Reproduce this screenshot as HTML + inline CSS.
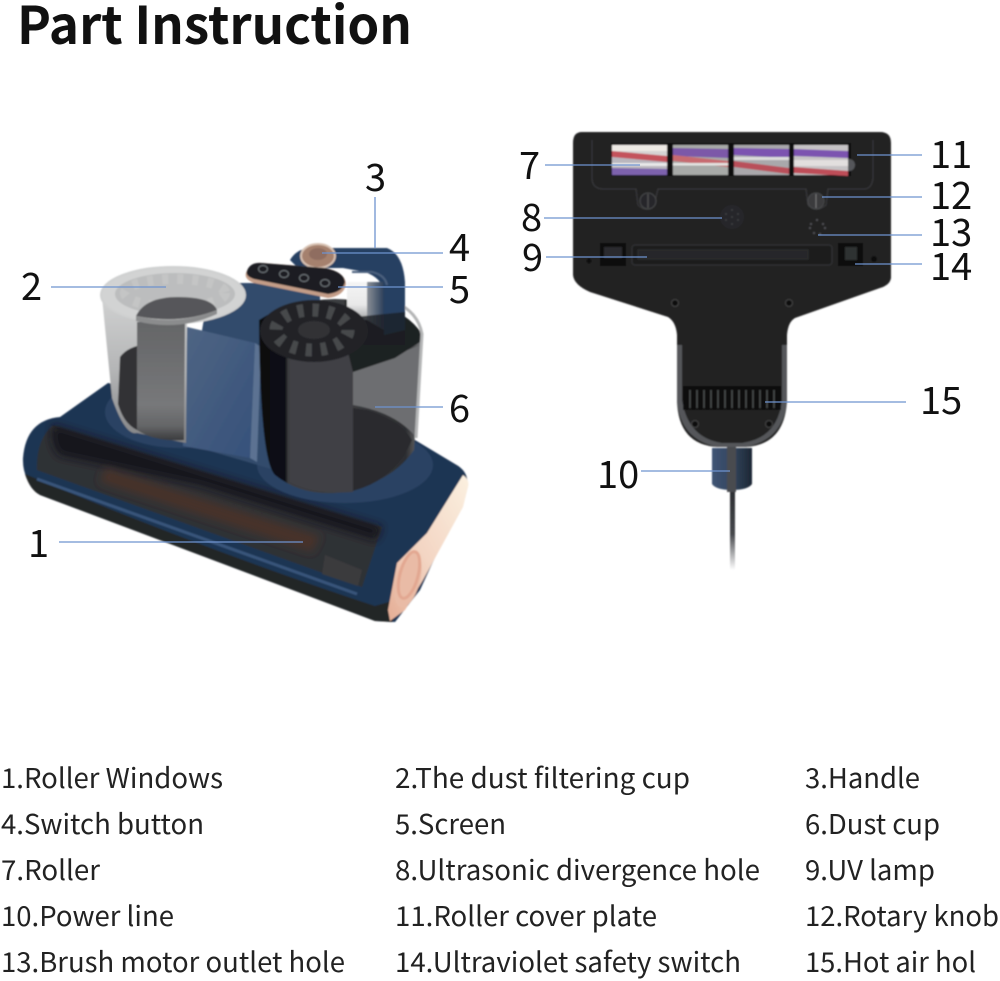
<!DOCTYPE html>
<html><head><meta charset="utf-8"><style>
html,body{margin:0;padding:0;background:#fff}
svg{display:block}
text{font-family:"Noto Sans CJK SC","Liberation Sans",sans-serif;fill:#111}
.n{font-size:38px;font-weight:400}
.l{font-size:27.5px;fill:#222}
</style></head><body>
<svg width="1000" height="981" viewBox="0 0 1000 981" xmlns="http://www.w3.org/2000/svg">
<defs>
<linearGradient id="outer" x1="0" x2="0" y1="0" y2="1"><stop offset="0" stop-color="#d0d1d1"/><stop offset=".5" stop-color="#b4b5b6"/><stop offset="1" stop-color="#808183"/></linearGradient>
<linearGradient id="inner" x1="0" x2="0" y1="0" y2="1"><stop offset="0" stop-color="#646567"/><stop offset=".7" stop-color="#77787a"/><stop offset=".88" stop-color="#646567"/><stop offset="1" stop-color="#3a3b3d"/></linearGradient>
<linearGradient id="panel" x1="0" x2="1" y1="0" y2="1"><stop offset="0" stop-color="#4f6583"/><stop offset="1" stop-color="#35507a"/></linearGradient>
<linearGradient id="cup2" x1="0" x2="1" y1="0" y2="0"><stop offset="0" stop-color="#0b0c10"/><stop offset=".16" stop-color="#0e0f13"/><stop offset=".18" stop-color="#3c3d40"/><stop offset=".6" stop-color="#3a3b3e"/><stop offset=".9" stop-color="#2c2d30"/><stop offset="1" stop-color="#77787a"/></linearGradient>
<linearGradient id="cap" x1="0" x2="1" y1="1" y2="0"><stop offset="0" stop-color="#e4ad95"/><stop offset=".45" stop-color="#f3d5c3"/><stop offset="1" stop-color="#fbf0e0"/></linearGradient>
<linearGradient id="fade" x1="0" x2="0" y1="0" y2="1"><stop offset="0" stop-color="#25272b"/><stop offset=".6" stop-color="#45474b"/><stop offset="1" stop-color="#fff"/></linearGradient>
<linearGradient id="sock" x1="0" x2="1" y1="0" y2="0"><stop offset="0" stop-color="#3e5474"/><stop offset=".5" stop-color="#34465f"/><stop offset="1" stop-color="#1c2633"/></linearGradient>
<linearGradient id="white" x1="0" x2="0" y1="0" y2="1"><stop offset="0" stop-color="#f5f5f5"/><stop offset=".6" stop-color="#e8e8e8"/><stop offset="1" stop-color="#a5a6a8"/></linearGradient>
<linearGradient id="hand" x1="0" x2="1" y1="0" y2="0"><stop offset="0" stop-color="#8a8f96"/><stop offset="1" stop-color="#2b3f5a"/></linearGradient>
<filter id="b"><feGaussianBlur stdDeviation=".8"/></filter>
<filter id="b3"><feGaussianBlur stdDeviation="4"/></filter>
</defs>
<rect width="1000" height="981" fill="#fff"/>

<text x="17" y="44" font-size="52" font-weight="700" textLength="395" lengthAdjust="spacingAndGlyphs" style="fill:#111">Part Instruction</text>

<!-- FRONT VIEW -->
<g filter="url(#b)">
<!-- base body -->
<path d="M60 417 L108 383 L200 400 L415 440 L455 464 Q470 472 467 488 L420 590 L395 622 L375 621 L40 495 Q22 480 23 458 Q26 420 60 417Z" fill="#1f3452"/>
<path d="M25 474 Q30 490 40 495 L375 621 L392 622 L402 598 L375 606 Q200 548 25 474Z" fill="#232527"/>
<path d="M37 479 L357 594" stroke="#38557a" stroke-width="3" fill="none"/>
<!-- window -->
<path d="M53 425 L382 527 L362 587 L37 470 Q36 440 53 425Z" fill="#2f3034"/>
<path d="M53 425 L382 527 L376 540 L200 485 L60 455 Q50 445 53 425Z" fill="#17181c" filter="url(#b3)"/>
<path d="M105 468 L320 536 L312 552 L100 482Z" fill="#46302c" filter="url(#b3)"/>
<path d="M325 555 L362 570 L358 586 L322 574Z" fill="#3a3b3e"/>
<!-- deck rings -->
<ellipse cx="180" cy="412" rx="75" ry="36" fill="#2a4263"/>
<ellipse cx="345" cy="465" rx="88" ry="38" fill="#2a4263"/>
<!-- center tower -->
<path d="M210 283 L320 283 L320 345 L275 360 L275 470 L183 443Z" fill="#324b6c"/>
<path d="M187 327 L255 343 L250 458 L183 446Z" fill="url(#panel)"/>
<path d="M255 343 L261 347 L257 462 L250 458Z" fill="#5b7292"/>
<!-- left cup -->
<path d="M102 297 L112 398 Q125 436 137 433 L186 443 L187 322 L246 297Z" fill="url(#outer)"/>
<path d="M120 357 Q126 349 137 346 L137 430 Q124 424 118 404Z" fill="#303134"/>
<path d="M137 322 L185 322 L184 440 Q155 442 137 430Z" fill="url(#inner)"/>
<ellipse cx="173" cy="295" rx="72" ry="28" fill="#d2d3d3" stroke="#cfd0d0" stroke-width="2"/>
<ellipse cx="175" cy="294" rx="60" ry="21" fill="#bcbdbe"/>
<ellipse cx="175" cy="293" rx="50" ry="14" fill="none" stroke="#c4c5c5" stroke-width="10" stroke-dasharray="6 9"/>
<path d="M136 316 Q145 297 178 297 Q212 297 217 310 Q180 325 136 316Z" fill="#56575a"/>
<path d="M136 316 Q178 326 217 310 L217 314 Q178 332 136 321Z" fill="#8b8c8d"/>
<!-- right cup -->
<path d="M259 320 Q260 460 275 475 Q300 495 335 493 Q390 485 414 450 L422 334 Q400 300 335 299 Q290 300 259 320Z" fill="url(#cup2)"/>
<path d="M290 360 L353 345 L353 492 Q315 495 290 482Z" fill="#404144"/>
<path d="M353 370 L421 345 L416 437 Q395 412 353 405Z" fill="#6d6e71"/>
<path d="M368 410 Q400 420 412 440 Q395 480 353 491 L353 408Z" fill="#2b2c2f"/>
<path d="M345 300 Q400 302 422 334 L420 342 L395 358 L353 372 L345 340Z" fill="#1f2023"/>
<path d="M395 302 Q418 312 422 334 L416 438" fill="none" stroke="#b4b5b6" stroke-width="3"/>
<!-- handle -->
<path d="M290 260 Q297 248 312 248 L387 248 Q403 254 405 282 L405 330 L384 335 L384 292 Q382 278 365 272 L343 268 L298 268Z" fill="#263f62"/>
<path d="M347 282 L367 282 L367 320 L347 320Z" fill="url(#white)"/>
<path d="M367 282 L384 282 L384 330 L367 320Z" fill="url(#hand)"/>
<path d="M352 272 L372 272 Q385 275 387 285" fill="none" stroke="#4b607e" stroke-width="2"/>
<path d="M345 318 L405 312 L405 345 L345 345Z" fill="#1d1f24" opacity=".8"/>
<!-- lid of right cup -->
<ellipse cx="314" cy="331" rx="54" ry="31" fill="#232427"/>
<ellipse cx="312" cy="330" rx="36" ry="20" fill="none" stroke="#47484b" stroke-width="13" stroke-dasharray="6 9"/>
<ellipse cx="314" cy="330" rx="16" ry="9" fill="#303134"/>
<!-- knob -->
<ellipse cx="318" cy="256" rx="17" ry="12" fill="#a5816e" stroke="#d8c2b3" stroke-width="2"/>
<ellipse cx="318" cy="254" rx="9" ry="6" fill="#8f6d60"/>
<!-- screen -->
<path d="M246 273 Q250 262 262 263 L325 268 Q345 272 346 284 Q344 296 328 298 L254 283 Q244 279 246 273Z" fill="#c39c87"/>
<path d="M247 271 Q250 262 262 263 L325 268 Q344 272 345 282 Q343 292 328 294 L254 279 Q245 276 247 271Z" fill="#1b1e24"/>
<g fill="none" stroke="#74797e" stroke-width="1"><ellipse cx="263" cy="269" rx="4.5" ry="3.5"/><ellipse cx="284" cy="274" rx="4.5" ry="3.5"/><ellipse cx="304" cy="278" rx="4.5" ry="3.5"/><ellipse cx="325" cy="283" rx="4.5" ry="3.5"/></g>
<!-- end cap -->
<path d="M463 475 Q470 480 468 487 L463 507 L423 580 L405 610 L390 621 L388 610 L397 563 L427 533Z" fill="url(#cap)"/>
<ellipse cx="408" cy="580" rx="12" ry="28" transform="rotate(15 408 580)" fill="#e9bba6"/>
<ellipse cx="409" cy="575" rx="9" ry="24" transform="rotate(15 409 575)" fill="none" stroke="#e2a791" stroke-width="3"/>
</g>

<!-- BACK VIEW -->
<g filter="url(#b)">
<rect x="730" y="480" width="5" height="90" fill="url(#fade)"/>
<path d="M712 448 L752 448 L752 484 Q748 490 732 490 Q716 490 712 484Z" fill="url(#sock)"/>
<rect x="727" y="444" width="9" height="48" fill="#4a4c4f"/>
<path d="M582 132 L880 132 Q891 132 891 143 L891 278 Q890 285 880 288 L795 318 Q788 322 787 335 L787 400 Q785 445 745 447 L718 447 Q678 445 677 400 L677 335 Q676 322 668 317 L590 292 Q574 285 573 275 L573 143 Q573 132 582 132Z" fill="#222223"/>
<path d="M677 345 L677 400 Q680 440 718 447 L745 447 Q784 440 787 400 L787 345 L782 345 L782 400 Q778 438 742 443 L722 443 Q688 438 682 400 L682 345Z" fill="#55575a"/>
<path d="M592 140 L592 178 Q592 188 602 189 L636 189 L638 205 Q646 213 654 205 L658 189 L806 189 L808 205 Q816 213 826 205 L828 189 L865 189 Q872 188 873 178 L873 140" fill="none" stroke="#38393b" stroke-width="1.2"/>
<rect x="611" y="143" width="240" height="33" fill="#0d0e10"/>
<circle cx="849" cy="165" r="6" fill="#55565a"/>
<g>
<rect x="612" y="145" width="55" height="30" fill="#d5d3d3"/>
<rect x="673" y="145" width="55" height="30" fill="#a8aaa8"/>
<rect x="734" y="145" width="55" height="30" fill="#a9a8ab"/>
<rect x="794" y="145" width="54" height="30" fill="#c6c3c5"/>
<rect x="612" y="145" width="55" height="6" fill="#eeeae5"/>
<path d="M612 157 L667 160 L667 175 L612 175Z" fill="#b9b6bd"/>
<path d="M612 168 L667 169 L667 175 L612 175Z" fill="#7d62ad"/>
<path d="M673 148 L728 149 L728 158 L673 156Z" fill="#7b59a8"/>
<path d="M734 148 L789 149 L789 158 L734 155Z" fill="#7b52b0"/>
<path d="M794 149 L848 151 L848 158 L794 156Z" fill="#7b52b0"/>
<path d="M612 151 L667 156 L667 162 L612 157 Z" fill="#c4525c"/>
<path d="M673 155 L728 161 L728 167 L673 161 Z" fill="#c76a6f"/>
<path d="M734 161 L789 168 L789 174 L734 167 Z" fill="#b9505a"/>
<path d="M794 167 L848 171 L848 176 L794 173 Z" fill="#be4d58"/>
<rect x="673" y="163" width="55" height="2.5" fill="#e3e3e1"/>
<rect x="734" y="157" width="55" height="3" fill="#dcdcdc"/>
<rect x="794" y="160" width="54" height="6" fill="#e2dfde"/>
<rect x="612" y="163" width="55" height="3" fill="#e8e8e8"/>
</g>
<circle cx="648" cy="201" r="8" fill="#25262a" stroke="#47484a" stroke-width="1"/>
<line x1="648" y1="194" x2="648" y2="208" stroke="#555"/>
<circle cx="816" cy="201" r="8" fill="#3a3b3e" stroke="#47484a" stroke-width="1"/>
<line x1="816" y1="194" x2="816" y2="208" stroke="#777"/>
<circle cx="732" cy="217" r="12" fill="#272829"/>
<g fill="#434446"><circle cx="732" cy="217" r=".9"/><circle cx="726" cy="214" r=".9"/><circle cx="738" cy="214" r=".9"/><circle cx="726" cy="220" r=".9"/><circle cx="738" cy="220" r=".9"/><circle cx="732" cy="210" r=".9"/><circle cx="732" cy="224" r=".9"/></g>
<g fill="#505155"><circle cx="817" cy="220" r="1.1"/><circle cx="811" cy="224" r="1.1"/><circle cx="823" cy="224" r="1.1"/><circle cx="810" cy="228" r="1.1"/><circle cx="825" cy="228" r="1.1"/><circle cx="814" cy="233" r="1.1"/><circle cx="820" cy="234" r="1.1"/></g>
<rect x="600" y="243" width="26" height="23" fill="#0c0d0e"/>
<rect x="604" y="247" width="18" height="11" fill="#2b2c2e"/>
<rect x="838" y="243" width="25" height="23" fill="#0c0d0e"/>
<rect x="845" y="247" width="12" height="13" fill="#2f3032"/>
<rect x="632" y="245" width="200" height="20" rx="3" fill="#1b1c1e" stroke="#343537"/>
<rect x="638" y="250" width="170" height="9" fill="#262729" stroke="#38393b" stroke-width=".6"/>
<circle cx="874" cy="259" r="3" fill="#0d0e0f"/><circle cx="589" cy="261" r="2.5" fill="#0d0e0f"/>
<circle cx="675" cy="303" r="3.5" fill="#0d0e0f" stroke="#444"/><circle cx="789" cy="303" r="3.5" fill="#0d0e0f" stroke="#444"/>
<rect x="683" y="386" width="98" height="24" fill="#0c0d0e"/>
<g stroke="#4e4f52" stroke-width="1.4"><line x1="690" y1="390" x2="690" y2="408"/><line x1="697" y1="390" x2="697" y2="408"/><line x1="704" y1="390" x2="704" y2="408"/><line x1="711" y1="390" x2="711" y2="408"/><line x1="718" y1="390" x2="718" y2="408"/><line x1="725" y1="390" x2="725" y2="408"/><line x1="732" y1="390" x2="732" y2="408"/><line x1="739" y1="390" x2="739" y2="408"/><line x1="746" y1="390" x2="746" y2="408"/><line x1="753" y1="390" x2="753" y2="408"/><line x1="760" y1="390" x2="760" y2="408"/><line x1="767" y1="390" x2="767" y2="408"/><line x1="774" y1="390" x2="774" y2="408"/></g>
<circle cx="695" cy="424" r="3.5" fill="#0d0e0f" stroke="#444"/><circle cx="769" cy="424" r="3.5" fill="#0d0e0f" stroke="#444"/>
</g>

<!-- leaders -->
<g stroke="#6e93cf" stroke-width="1.3" fill="none">
<line x1="51" y1="287" x2="166" y2="287"/>
<line x1="59" y1="542" x2="303" y2="542"/>
<line x1="375" y1="197" x2="375" y2="248"/>
<line x1="322" y1="253" x2="443" y2="253"/>
<line x1="338" y1="287" x2="443" y2="287"/>
<line x1="375" y1="407" x2="443" y2="407"/>
<line x1="545" y1="165" x2="640" y2="165"/>
<line x1="544" y1="218" x2="722" y2="218"/>
<line x1="546" y1="257" x2="647" y2="257"/>
<line x1="641" y1="471" x2="730" y2="471"/>
<line x1="857" y1="155" x2="922" y2="155"/>
<line x1="822" y1="197" x2="922" y2="197"/>
<line x1="818" y1="235" x2="922" y2="235"/>
<line x1="855" y1="264" x2="922" y2="264"/>
<line x1="765" y1="402" x2="906" y2="402"/>
</g>

<!-- numbers -->
<g class="n">
<text class="n" x="28" y="557">1</text>
<text class="n" x="21" y="300">2</text>
<text class="n" x="365" y="191">3</text>
<text class="n" x="449" y="261">4</text>
<text class="n" x="449" y="303">5</text>
<text class="n" x="449" y="422">6</text>
<text class="n" x="519" y="179">7</text>
<text class="n" x="521" y="231">8</text>
<text class="n" x="522" y="271">9</text>
<text class="n" x="597" y="488">10</text>
<text class="n" x="930" y="168">11</text>
<text class="n" x="930" y="209">12</text>
<text class="n" x="930" y="246">13</text>
<text class="n" x="930" y="280">14</text>
<text class="n" x="920" y="414">15</text>
</g>

<!-- legend -->
<text class="l" x="1" y="788" textLength="222" lengthAdjust="spacingAndGlyphs">1.Roller Windows</text>
<text class="l" x="395" y="788" textLength="295" lengthAdjust="spacingAndGlyphs">2.The dust filtering cup</text>
<text class="l" x="805" y="788" textLength="115" lengthAdjust="spacingAndGlyphs">3.Handle</text>
<text class="l" x="1" y="834" textLength="203" lengthAdjust="spacingAndGlyphs">4.Switch button</text>
<text class="l" x="395" y="834" textLength="111" lengthAdjust="spacingAndGlyphs">5.Screen</text>
<text class="l" x="805" y="834" textLength="135" lengthAdjust="spacingAndGlyphs">6.Dust cup</text>
<text class="l" x="1" y="880" textLength="99" lengthAdjust="spacingAndGlyphs">7.Roller</text>
<text class="l" x="395" y="880" textLength="365" lengthAdjust="spacingAndGlyphs">8.Ultrasonic divergence hole</text>
<text class="l" x="805" y="880" textLength="130" lengthAdjust="spacingAndGlyphs">9.UV lamp</text>
<text class="l" x="1" y="926" textLength="173" lengthAdjust="spacingAndGlyphs">10.Power line</text>
<text class="l" x="395" y="926" textLength="262" lengthAdjust="spacingAndGlyphs">11.Roller cover plate</text>
<text class="l" x="805" y="926" textLength="194" lengthAdjust="spacingAndGlyphs">12.Rotary knob</text>
<text class="l" x="1" y="972" textLength="344" lengthAdjust="spacingAndGlyphs">13.Brush motor outlet hole</text>
<text class="l" x="395" y="972" textLength="346" lengthAdjust="spacingAndGlyphs">14.Ultraviolet safety switch</text>
<text class="l" x="805" y="972" textLength="171" lengthAdjust="spacingAndGlyphs">15.Hot air hol</text>
</svg>
</body></html>
